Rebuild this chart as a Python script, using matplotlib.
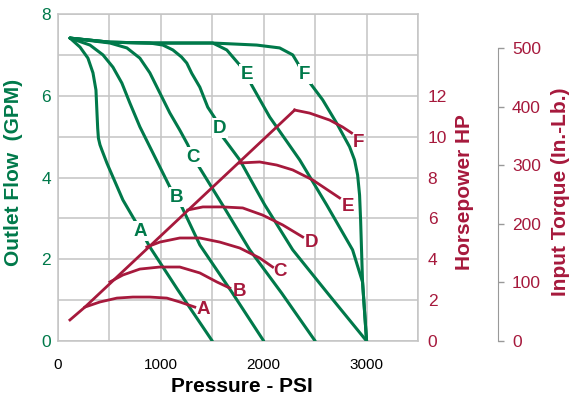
import matplotlib
matplotlib.use("Agg")
import matplotlib.pyplot as plt

plt.rcParams['font.family'] = ['Liberation Sans', 'DejaVu Sans']

GREEN = '#00794a'
RED = '#a6193c'
GRID = '#c4c4c4'

# outlet flow curves (PSI, GPM)
psi_a = [117, 214, 291, 340, 369, 379, 386, 393, 408, 427, 476, 505, 631, 796, 893, 1165, 1500]
gpm_a = [7.41, 7.19, 6.92, 6.56, 6.14, 5.58, 5.20, 4.96, 4.80, 4.67, 4.35, 4.18, 3.45, 2.74, 2.30, 1.25, 0]
psi_b = [117, 311, 437, 534, 621, 699, 796, 893, 990, 1087, 1146, 1204, 1379, 1689, 2000]
gpm_b = [7.41, 7.24, 7.00, 6.70, 6.31, 5.82, 5.24, 4.75, 4.26, 3.77, 3.52, 3.28, 2.35, 1.20, 0]
psi_c = [117, 505, 670, 796, 893, 990, 1087, 1184, 1262, 1311, 1359, 1612, 1864, 2175, 2500]
gpm_c = [7.41, 7.29, 7.17, 6.92, 6.56, 6.07, 5.58, 5.16, 4.80, 4.50, 4.31, 3.28, 2.23, 1.17, 0]
psi_d = [117, 505, 893, 1020, 1117, 1200, 1252, 1300, 1379, 1456, 1524, 1573, 1602, 1767, 2010, 2282, 2621, 3000]
gpm_d = [7.41, 7.31, 7.29, 7.24, 7.12, 6.95, 6.80, 6.55, 6.21, 5.72, 5.46, 5.21, 4.99, 4.43, 3.33, 2.23, 1.17, 0]
psi_e = [117, 505, 893, 1282, 1505, 1641, 1767, 1835, 1883, 2058, 2350, 2612, 2864, 2961, 3000]
gpm_e = [7.41, 7.31, 7.29, 7.29, 7.29, 7.12, 6.75, 6.51, 6.26, 5.48, 4.43, 3.33, 2.23, 1.44, 0]
psi_f = [117, 505, 893, 1282, 1505, 1932, 2155, 2282, 2330, 2379, 2427, 2573, 2709, 2835, 2883, 2913, 2932, 2942, 2951, 2961, 3000]
gpm_f = [7.41, 7.31, 7.29, 7.29, 7.29, 7.24, 7.17, 7.00, 6.80, 6.56, 6.39, 5.90, 5.33, 4.75, 4.43, 4.06, 3.57, 2.96, 2.23, 1.44, 0]

# horsepower curves (PSI, HP)
psi_env = [116, 262, 2301]
hp_env = [1.03, 1.66, 11.30]
psi_hp_a = [262, 408, 573, 728, 893, 1058, 1184, 1330]
hp_a = [1.66, 1.91, 2.10, 2.15, 2.15, 2.10, 1.91, 1.66]
psi_hp_b = [505, 631, 796, 990, 1184, 1379, 1544, 1670]
hp_b = [2.89, 3.23, 3.52, 3.62, 3.62, 3.33, 2.89, 2.59]
psi_hp_c = [864, 990, 1184, 1379, 1573, 1767, 1961, 2087]
hp_c = [4.60, 4.84, 5.04, 5.04, 4.84, 4.55, 4.06, 3.62]
psi_hp_d = [1262, 1408, 1602, 1796, 1990, 2184, 2379]
hp_d = [6.41, 6.56, 6.56, 6.51, 6.16, 5.68, 5.09]
psi_hp_e = [1767, 1961, 2126, 2282, 2476, 2738]
hp_e = [8.71, 8.76, 8.61, 8.37, 7.88, 7.00]
psi_hp_f = [2301, 2447, 2641, 2767, 2854]
hp_f = [11.30, 11.15, 10.81, 10.47, 10.18]

letters = ['A', 'B', 'C', 'D', 'E', 'F']
# label spots
flow_lbl_psi = [796, 1155, 1311, 1573, 1835, 2398]
flow_lbl_gpm = [2.69, 3.52, 4.50, 5.21, 6.53, 6.53]
hp_lbl_psi = [1417, 1767, 2155, 2466, 2816, 2922]
hp_lbl_hp = [1.52, 2.40, 3.38, 4.84, 6.56, 9.69]

fig = plt.figure(figsize=(5.71, 4.01), dpi=100)
ax = fig.add_axes([58/571, 1-341/401, 360/571, 327/401])
ax.set_xlim(0, 3500)
ax.set_ylim(0, 8)
ax.set_xticks(range(0, 3501, 500))
ax.set_xticklabels([str(v) if v % 1000 == 0 and v < 3500 else '' for v in range(0, 3501, 500)])
ax.set_yticks(range(0, 9))
ax.set_yticklabels([str(v) if v % 2 == 0 else '' for v in range(0, 9)])
ax.grid(True, color=GRID, lw=1.1)
ax.set_axisbelow(True)
for s in ax.spines.values():
    s.set_color(GRID)
    s.set_linewidth(1.1)
ax.tick_params(axis='y', length=0, pad=5, labelsize=12.5, labelcolor=GREEN)
ax.tick_params(axis='x', length=0, pad=12, labelsize=11, labelcolor='black')

flows = [(psi_a, gpm_a), (psi_b, gpm_b), (psi_c, gpm_c), (psi_d, gpm_d), (psi_e, gpm_e), (psi_f, gpm_f)]
for x, y in flows:
    ax.plot(x, y, color=GREEN, lw=2.2, solid_capstyle='round', solid_joinstyle='round', zorder=3)
for l, x, y in zip(letters, flow_lbl_psi, flow_lbl_gpm):
    ax.text(x, y, l, color=GREEN, fontsize=13.5, fontweight='bold', ha='center', va='center', zorder=4,
            bbox=dict(facecolor='white', edgecolor='none', pad=1.0))

# horsepower axis
hp = ax.twinx()
hp.set_ylim(0, 16)
hp.set_yticks(range(0, 13, 2))
for s in hp.spines.values():
    s.set_visible(False)
hp.tick_params(axis='y', length=0, pad=7, labelsize=12.5, labelcolor=RED)
hp.plot(psi_env, hp_env, color=RED, lw=2.0, solid_joinstyle='miter', zorder=3)
curves = [(psi_hp_a, hp_a), (psi_hp_b, hp_b), (psi_hp_c, hp_c), (psi_hp_d, hp_d), (psi_hp_e, hp_e), (psi_hp_f, hp_f)]
for x, y in curves:
    hp.plot(x, y, color=RED, lw=2.0, solid_joinstyle='round', zorder=3)
for l, x, y in zip(letters, hp_lbl_psi, hp_lbl_hp):
    hp.text(x, y, l, color=RED, fontsize=13.5, fontweight='bold', ha='center', va='center')

# torque axis
tq = ax.twinx()
tq.set_ylim(0, 558)
tq.set_yticks(range(0, 501, 100))
for k, s in tq.spines.items():
    s.set_visible(k == 'right')
tq.spines['right'].set_position(('axes', 440/360))
tq.spines['right'].set_bounds(0, 500)
tq.spines['right'].set_color('#999999')
tq.tick_params(axis='y', length=4, width=1, color='#999999', pad=6, labelsize=12.5, labelcolor=RED)

fig.text(242/571, 1-386/401, 'Pressure - PSI', fontsize=15, fontweight='bold', ha='center', va='center')
fig.text(14/571, 1-172/401, 'Outlet Flow  (GPM)', fontsize=15, fontweight='bold', color=GREEN,
         rotation=90, ha='center', va='center')
fig.text(465/571, 1-192/401, 'Horsepower HP', fontsize=15, fontweight='bold', color=RED,
         rotation=90, ha='center', va='center')
fig.text(561/571, 1-192/401, 'Input Torque (In.-Lb.)', fontsize=15, fontweight='bold', color=RED,
         rotation=90, ha='center', va='center')

fig.savefig('out.png', dpi=100)
